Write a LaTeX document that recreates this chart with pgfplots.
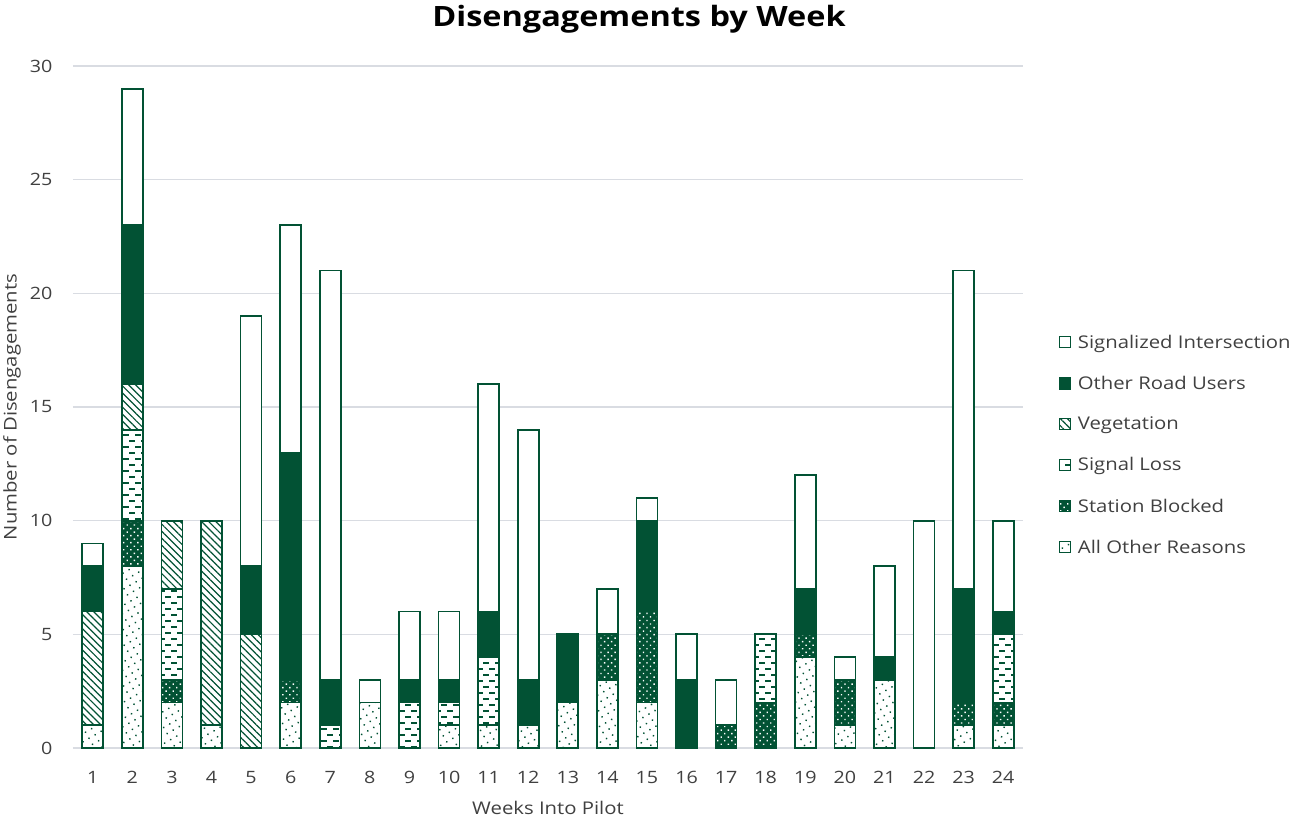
\documentclass[border=0pt]{standalone}
\usepackage{pgfplots}
\pgfplotsset{compat=1.18}
\usepackage{pgfplotstable}
\usepackage{fontspec}
\setmainfont{Open Sans}[FakeStretch=1.16]
\usetikzlibrary{patterns,patterns.meta}
\definecolor{dg}{RGB}{2,82,52}
\definecolor{gridc}{RGB}{217,220,226}
\definecolor{txt}{RGB}{64,64,64}

\pgfdeclarepatternformonly{hdash}{\pgfqpoint{-1pt}{-1pt}}{\pgfqpoint{13pt}{13pt}}{\pgfqpoint{12pt}{12pt}}{
  \pgfsetlinewidth{1.8pt}
  \pgfpathmoveto{\pgfqpoint{3pt}{3pt}}\pgfpathlineto{\pgfqpoint{9pt}{3pt}}
  \pgfpathmoveto{\pgfqpoint{-3pt}{9pt}}\pgfpathlineto{\pgfqpoint{3pt}{9pt}}
  \pgfpathmoveto{\pgfqpoint{9pt}{9pt}}\pgfpathlineto{\pgfqpoint{15pt}{9pt}}
  \pgfusepath{stroke}}

\pgfplotstableread{
week aor sb sl veg oru si
1 1 0 0 5 2 1
2 8 2 4 2 7 6
3 2 1 4 3 0 0
4 1 0 0 9 0 0
5 0 0 0 5 3 11
6 2 1 0 0 10 10
7 0 0 1 0 2 18
8 2 0 0 0 0 1
9 0 0 2 0 1 3
10 1 0 1 0 1 3
11 1 0 3 0 2 10
12 1 0 0 0 2 11
13 2 0 0 0 3 0
14 3 2 0 0 0 2
15 2 4 0 0 4 1
16 0 0 0 0 3 2
17 0 1 0 0 0 2
18 0 2 3 0 0 0
19 4 1 0 0 2 5
20 1 2 0 0 0 1
21 3 0 0 0 1 4
22 0 0 0 0 0 10
23 1 1 0 0 5 14
24 1 1 3 0 1 4
}\datatable

\begin{document}
\begin{tikzpicture}
\path[use as bounding box] (0pt,0pt) rectangle (1290pt,-822pt);
\begin{axis}[
  at={(73pt,-748pt)}, anchor=south west,
  width=950pt, height=682pt, scale only axis,
  ybar stacked, bar width=21pt,
  xmin=0.5, xmax=24.5, ymin=0, ymax=30,
  xtick={1,...,24}, ytick={0,5,...,30},
  ymajorgrids, grid style={gridc, line width=1.2pt},
  axis line style={draw=none},
  major tick length=0pt,
  tick label style={text=txt, font=\fontsize{17pt}{20pt}\selectfont},
  /pgf/number format/assume math mode=true,
  yticklabel style={xshift=-17pt},
  xticklabel style={yshift=-20pt},
  every axis plot/.append style={draw=dg, line width=1.7pt},
  reverse legend,
  legend cell align=left,
  legend style={at={(1.034,0.612)}, anchor=north west, draw=none, fill=none,
    font=\fontsize{17.5pt}{20pt}\selectfont, text=txt, row sep=22.3pt,
    /tikz/every odd column/.append style={column sep=5pt}},
  legend image code/.code={\draw[#1, line width=1.4pt] (0pt,-5.5pt) rectangle (11pt,5.5pt);},
]
\addplot[fill=white, postaction={pattern={Dots[distance=7pt, radius=1pt, angle=30]}, pattern color=dg}] table[x=week, y=aor] {\datatable};
\addlegendentry{All Other Reasons}
\addplot[fill=dg, postaction={pattern={Dots[distance=5pt, radius=1pt, angle=45]}, pattern color=white}] table[x=week, y=sb] {\datatable};
\addlegendentry{Station Blocked}
\addplot[fill=white, postaction={pattern=hdash, pattern color=dg}] table[x=week, y=sl] {\datatable};
\addlegendentry{Signal Loss}
\addplot[fill=white, postaction={pattern={Lines[angle=-45, distance=5pt, line width=1.2pt]}, pattern color=dg}] table[x=week, y=veg] {\datatable};
\addlegendentry{Vegetation}
\addplot[fill=dg] table[x=week, y=oru] {\datatable};
\addlegendentry{Other Road Users}
\addplot[fill=white] table[x=week, y=si] {\datatable};
\addlegendentry{Signalized Intersection}
\end{axis}
\node[font=\fontsize{28pt}{32pt}\selectfont\bfseries] at (639pt,-19pt) {Disengagements by Week};
\node[text=txt, font=\fontsize{17.5pt}{20pt}\selectfont] at (548pt,-808pt) {Weeks Into Pilot};
\node[text=txt, rotate=90, font=\fontsize{17.5pt}{20pt}\selectfont] at (12pt,-407pt) {Number of Disengagements};
\end{tikzpicture}
\end{document}
